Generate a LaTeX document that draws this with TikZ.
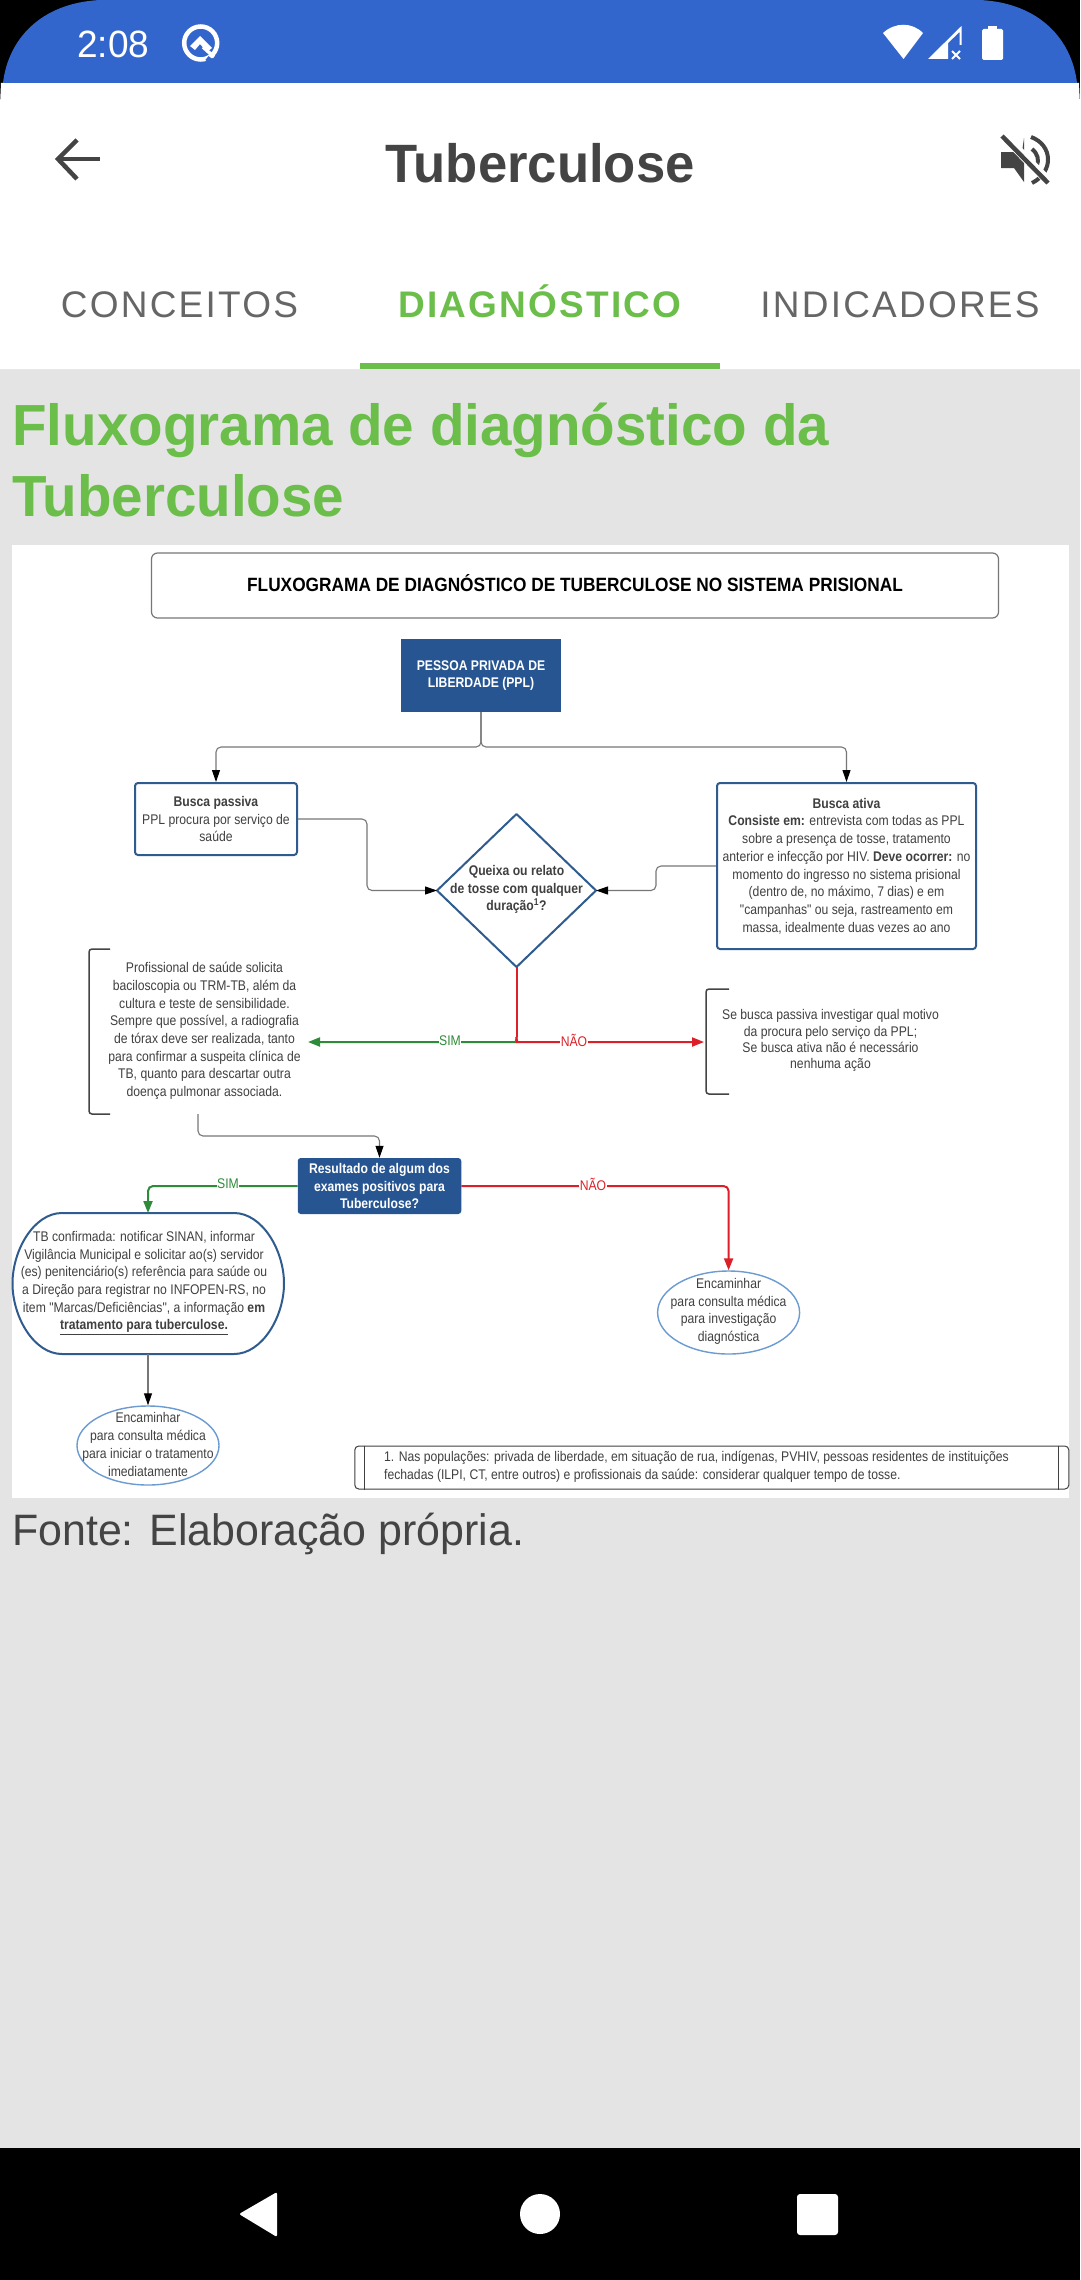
\documentclass[tikz,border=0pt]{standalone}
\usepackage{fontspec}
\setmainfont{Liberation Sans}
\newfontfamily\dgfont[FakeStretch=0.87]{Liberation Sans}
\newfontfamily\dgwide[FakeStretch=0.9]{Liberation Sans}
\newfontfamily\uifont[FakeStretch=0.975]{Liberation Sans}
\newfontfamily\tabfont[LetterSpace=6]{Liberation Sans}
\usetikzlibrary{arrows.meta,shapes.geometric,calc}
\definecolor{blueBar}{HTML}{3366CC}
\definecolor{uigreen}{HTML}{6CBE4B}
\definecolor{pagebg}{HTML}{E4E4E4}
\definecolor{uitext}{HTML}{444444}
\definecolor{tabgray}{HTML}{666666}
\definecolor{navy}{HTML}{275592}
\definecolor{edge}{HTML}{2F5B8F}
\definecolor{lightedge}{HTML}{6C9BD2}
\definecolor{dgtext}{HTML}{404040}
\definecolor{conngray}{HTML}{777777}
\definecolor{cgreen}{HTML}{2E8B3A}
\definecolor{cred}{HTML}{DD2027}
\tikzset{
  x=1pt,y=-1pt,
  dg/.style={font=\dgfont\fontsize{14}{17.7}\selectfont,text=dgtext,align=center,inner sep=0pt},
  dgbold/.style={font=\dgfont\bfseries\fontsize{14}{17.7}\selectfont},
  navybox/.style={dg,fill=navy,text=white},
  bluebox/.style={dg,draw=edge,line width=2pt,rounded corners=3pt},
  roundnode/.style={dg,shape=ellipse,draw=lightedge,line width=1.4pt},
  bracketline/.style={draw=uitext,line width=1.5pt,rounded corners=3pt},
  grayconn/.style={draw=conngray,line width=1.1pt,rounded corners=5pt,-{Triangle[length=12pt,width=8pt,color=black,fill=black]}},
  greenconn/.style={draw=cgreen,line width=2pt,rounded corners=5pt,-{Triangle[length=12pt,width=9pt,color=cgreen,fill=cgreen]}},
  redconn/.style={draw=cred,line width=2pt,rounded corners=5pt,-{Triangle[length=12pt,width=9pt,color=cred,fill=cred]}},
  edgetag/.style={font=\dgfont\fontsize{14}{15}\selectfont,fill=white,inner sep=0.5pt},
  tabtext/.style={font=\tabfont\fontsize{37}{40}\selectfont,anchor=base,inner sep=0pt},
  headtext/.style={text=uigreen,font=\uifont\bfseries\fontsize{58}{71}\selectfont,anchor=base west,inner sep=0pt},
}
\begin{document}
\begin{tikzpicture}
\useasboundingbox (0,0) rectangle (1080,2280);
% screen
\fill[black] (0,0) rectangle (1080,2280);
\fill[pagebg] (0,369) rectangle (1080,2148);
\fill[white] (1,83) -- (1079,83) -- (1080,105) -- (1080,369) -- (0,369) -- (0,105) -- cycle;
\fill[blueBar] (3,83) .. controls (8,40) and (40,3) .. (100,0) -- (980,0) .. controls (1040,3) and (1072,40) .. (1077,83) -- cycle;
% status bar
\node[text=white,font=\uifont\fontsize{38}{40}\selectfont,anchor=base west,inner sep=0pt] (clock) at (77,58) {2:08};
\draw[white,line width=4.5pt] (200.7,43) circle (16.5);
\draw[blueBar,line width=5pt] (207,58) -- (213,63);
\fill[white] (190,46) -- (200,36) -- (212,48) -- (207,52) -- (200,44) -- (195,50) -- cycle;
\draw[white,line width=3.5pt] (203,47) -- (214,57);
\fill[white] (883,33) .. controls (895,22) and (912,22) .. (923,33) -- (903.5,59) -- cycle;
\fill[white] (928,59) -- (961.5,26) -- (961.5,45) -- (959.5,45) -- (959.5,32) -- (948,43) -- (948,59) -- cycle;
\draw[white,line width=2pt] (952,51) -- (960,59) (960,51) -- (952,59);
\fill[white,rounded corners=1.5pt] (982,29) rectangle (1003,60);
\fill[white] (988,26) rectangle (997,31);
% app bar
\draw[uitext,line width=4.5pt] (100,159) -- (58,159);
\draw[uitext,line width=4.5pt] (77,140) -- (58,159) -- (77,179);
\node[text=uitext,font=\uifont\bfseries\fontsize{54}{60}\selectfont,anchor=base,inner sep=0pt] (apptitle) at (540,182) {Tuberculose};
\fill[uitext] (1001,152) -- (1022,152) -- (1024,138) -- (1024,182) -- (1014,168) -- (1001,168) -- cycle;
\draw[uitext,line width=4pt] (1032,149) .. controls (1038,154) and (1039,160) .. (1037,165);
\draw[uitext,line width=4pt] (1031,137) .. controls (1053,145) and (1054,172) .. (1032,183);
\draw[white,line width=9pt] (1004,136) -- (1050,183);
\draw[uitext,line width=4.5pt] (1002,136) -- (1048,183);
% tabs
\node[tabtext,text=tabgray] (t1) at (179.5,317) {CONCEITOS};
\node[tabtext,text=uigreen,font=\tabfont\bfseries\fontsize{37}{40}\selectfont] (t2) at (540,317) {DIAGNÓSTICO};
\node[tabtext,text=tabgray] (t3) at (900,317) {INDICADORES};
\fill[uigreen] (360,363) rectangle (720,369);
% heading
\node[headtext] (h1) at (12,445) {Fluxograma de diagnóstico da};
\node[headtext] (h2) at (12,516) {Tuberculose};
\fill[white] (12,545) rectangle (1069,1498);
\node[text=uitext,font=\uifont\fontsize{44}{50}\selectfont,anchor=base west,inner sep=0pt] (fonte) at (12,1545) {Fonte: Elaboração própria.};
% diagram
\node[draw=conngray,line width=1.2pt,rounded corners=6pt,minimum width=847pt,minimum height=65pt,inner sep=0pt] (titlebox) at (575,585.5) {};
\node[font=\dgwide\bfseries\fontsize{19.2}{20}\selectfont,text=black,inner sep=0pt] (titletext) at (575,583) {FLUXOGRAMA DE DIAGNÓSTICO DE TUBERCULOSE NO SISTEMA PRISIONAL};
\node[navybox,dgbold,minimum width=160pt,minimum height=73pt] (ppl) at (481,675.5) {PESSOA PRIVADA DE\\LIBERDADE (PPL)};
\node[bluebox,minimum width=162pt,minimum height=72pt] (passiva) at (216,819) {\textbf{Busca passiva}\\PPL procura por serviço de\\saúde};
\node[bluebox,minimum width=259pt,minimum height=166pt] (ativa) at (846.5,866) {\textbf{Busca ativa}\\\textbf{Consiste em:} entrevista com todas as PPL\\sobre a presença de tosse, tratamento\\anterior e infecção por HIV. \textbf{Deve ocorrer:} no\\momento do ingresso no sistema prisional\\(dentro de, no máximo, 7 dias) e em\\"campanhas" ou seja, rastreamento em\\massa, idealmente duas vezes ao ano};
\node[dg,dgbold] (queixa) at (516.5,889.5) {Queixa ou relato\\de tosse com qualquer\\duração\textsuperscript{1}?};
\draw[edge,line width=2pt,line join=round] (516.5,814) -- (596,890.5) -- (516.5,967) -- (437,890.5) -- cycle;
\coordinate (qbot) at (516.5,967);
\coordinate (qleft) at (437,890.5);
\coordinate (qright) at (596,890.5);
\node[dg,minimum width=190pt,minimum height=165pt] (prof) at (204.5,1031) {Profissional de saúde solicita\\baciloscopia ou TRM-TB, além da\\cultura e teste de sensibilidade.\\Sempre que possível, a radiografia\\de tórax deve ser realizada, tanto\\para confirmar a suspeita clínica de\\TB, quanto para descartar outra\\doença pulmonar associada.};
\draw[bracketline] (110,949) -- (89,949) -- (89,1114) -- (110,1114);
\node[dg,font=\dgfont\fontsize{14}{16.2}\selectfont,minimum width=230pt,minimum height=105pt] (sebusca) at (830.5,1040.5) {Se busca passiva investigar qual motivo\\da procura pelo serviço da PPL;\\Se busca ativa não é necessário\\nenhuma ação};
\draw[bracketline] (729,989) -- (706,989) -- (706,1094) -- (729,1094);
\node[navybox,dgbold,rounded corners=3pt,minimum width=163.5pt,minimum height=56pt] (result) at (379.5,1186) {Resultado de algum dos\\exames positivos para\\Tuberculose?};
\node[dg,minimum width=271pt,minimum height=141pt] (tb) at (144,1283) {TB confirmada: notificar SINAN, informar\\Vigilância Municipal e solicitar ao(s) servidor\\(es) penitenciário(s) referência para saúde ou\\a Direção para registrar no INFOPEN-RS, no\\item "Marcas/Deficiências", a informação \textbf{em}\\\underline{\textbf{tratamento para tuberculose.}}};
\draw[edge,line width=2pt] (62,1213) -- (234,1213) .. controls (262,1213) and (284,1250) .. (284,1283.5) .. controls (284,1317) and (262,1354) .. (234,1354) -- (62,1354) .. controls (34,1354) and (12.5,1317) .. (12.5,1283.5) .. controls (12.5,1250) and (34,1213) .. (62,1213) -- cycle;
\coordinate (tbtop) at (148,1213);
\coordinate (tbbot) at (148,1354);
\node[roundnode,minimum width=142pt,minimum height=79pt] (enc1) at (148,1445.5) {};
\node[dg] (enc1t) at (148,1444.5) {Encaminhar\\para consulta médica\\para iniciar o tratamento\\imediatamente};
\node[roundnode,minimum width=142pt,minimum height=83pt] (enc2) at (728.6,1312.5) {};
\node[dg] (enc2t) at (728.6,1311.5) {Encaminhar\\para consulta médica\\para investigação\\diagnóstica};
\node[draw=dgtext,line width=1pt,rounded corners=4pt,minimum width=714pt,minimum height=43pt,inner sep=0pt] (fn) at (711.8,1467.5) {};
\draw[dgtext,line width=1pt] ($(fn.north west)+(10.5,0)$) -- ($(fn.south west)+(10.5,0)$) ($(fn.north east)+(-10.5,0)$) -- ($(fn.south east)+(-10.5,0)$);
\node[dg,align=left,anchor=west] (fnt) at (384,1466.5) {1. Nas populações: privada de liberdade, em situação de rua, indígenas, PVHIV, pessoas residentes de instituições\\fechadas (ILPI, CT, entre outros) e profissionais da saúde: considerar qualquer tempo de tosse.};
% connectors
\coordinate (j1) at (481,747);
\draw[grayconn] (ppl.south) -- (j1) -| (passiva.north);
\draw[grayconn] (ppl.south) -- (j1) -| (ativa.north);
\draw[grayconn] (passiva.east) -- (367,819) |- (qleft);
\draw[grayconn] (ativa.west) -- (656,866) |- (qright);
\draw[cred,line width=2pt] (qbot) -- (516.5,1037);
\draw[greenconn] (516.5,1037) .. controls (516.5,1041) and (515,1042) .. (511,1042) -- (308,1042) coordinate (proftip);
\draw[redconn] (516.5,1037) .. controls (516.5,1041) and (518,1042) .. (522,1042) -- (704,1042) coordinate (setip);
\node[edgetag,text=cgreen] (sim1) at (450,1041) {SIM};
\node[edgetag,text=cred] (nao1) at (574,1040) {NÃO};
\draw[grayconn] (198,1114) -- (198,1136) -| (result.north);
\draw[greenconn] (result.west) -| (tbtop);
\draw[redconn] (result.east) -| (enc2.north);
\node[edgetag,text=cgreen] (sim2) at (228,1184) {SIM};
\node[edgetag,text=cred] (nao2) at (593,1184) {NÃO};
\draw[grayconn] (tbbot) -- (enc1.north);
% nav bar
\fill[white,rounded corners=2pt] (239,2214) -- (277,2192) -- (277,2237) -- cycle;
\fill[white] (540,2214) circle (20);
\fill[white,rounded corners=3pt] (797,2194) rectangle (838,2235);
\end{tikzpicture}
\end{document}
